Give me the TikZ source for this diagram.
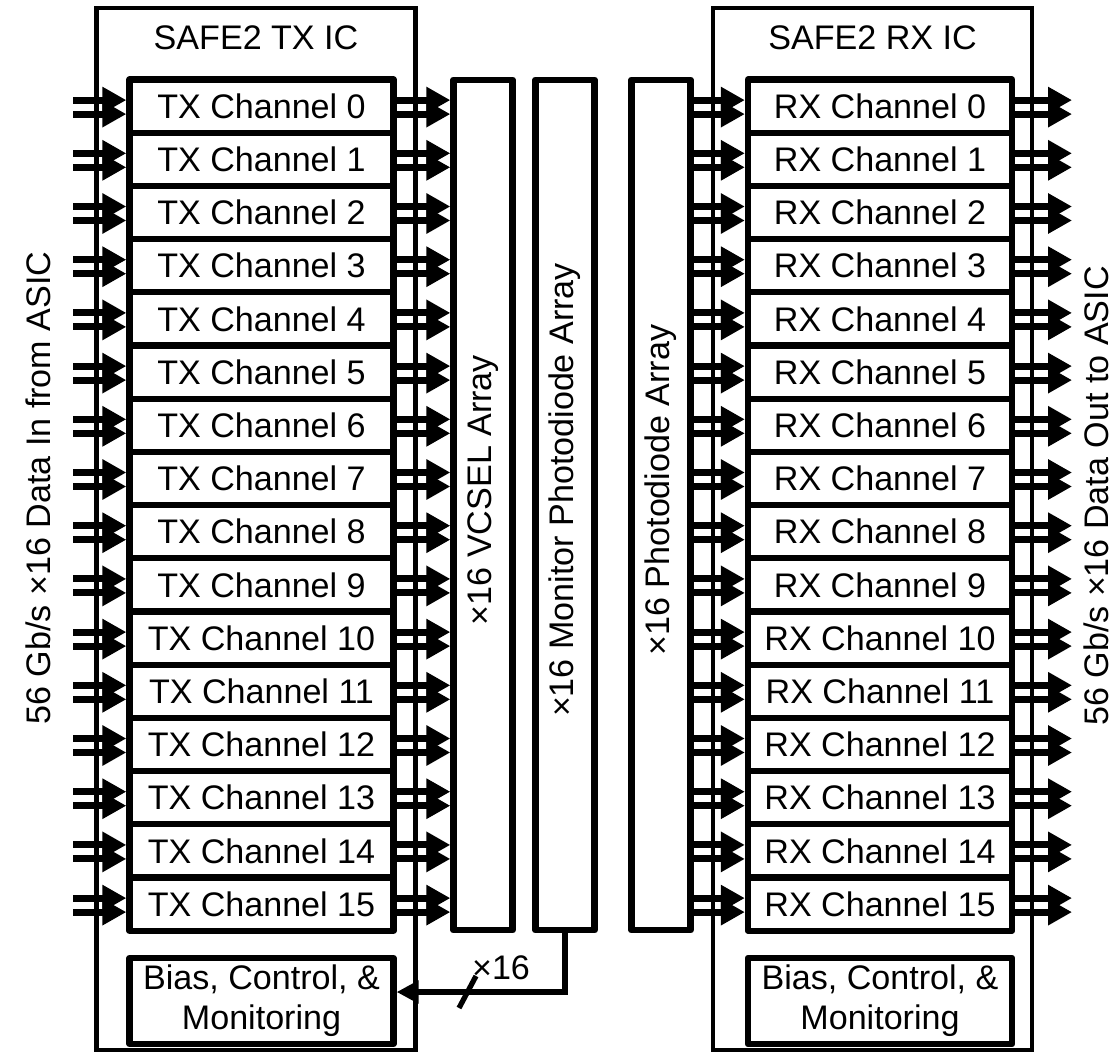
\documentclass[tikz,border=0pt]{standalone}
\usepackage{fontspec}
\setmainfont{Liberation Sans}
\usetikzlibrary{arrows.meta,positioning}
\newcommand{\lblfont}{\fontsize{9.7pt}{11.4pt}\selectfont}

\begin{document}
\begin{tikzpicture}[x=0.1mm,y=-0.1mm,
    font=\lblfont,
    icbox/.style={draw, line width=1.3pt, minimum width=31.9mm, minimum height=104.2mm, inner sep=0pt},
    chanbox/.style={draw, line width=1.8pt, line join=round, minimum width=26.4mm, minimum height=5.32mm, inner sep=0pt},
    arraybox/.style={draw, line width=1.8pt, line join=round, minimum width=5.9mm, minimum height=85.05mm, inner sep=0pt},
    biasbox/.style={chanbox, minimum height=8.6mm, align=center},
    datalink/.style={line width=2pt, -{Triangle[length=2.4mm,width=2.5mm]}},
    buslink/.style={line width=1.5pt, -{Triangle[length=2.2mm,width=2.2mm]}},
  ]
  \useasboundingbox (0,0) rectangle (1117,1053);

  % IC outlines
  \node[icbox] (txic) at (256,529) {};
  \node[icbox] (rxic) at (872.5,529) {};
  \node (txtitle) at (256,38) {SAFE2 TX IC};
  \node (rxtitle) at (872.5,38) {SAFE2 RX IC};

  % optical arrays
  \node[arraybox] (vcsel) at (483,505) {};
  \node[arraybox] (mpd) at (565,505) {};
  \node[arraybox] (pd) at (661,505) {};
  \node[rotate=90] (vcsellbl) at (483,490) {×16 VCSEL Array};
  \node[rotate=90] (mpdlbl) at (565,490) {×16 Monitor Photodiode Array};
  \node[rotate=90] (pdlbl) at (661,490) {×16 Photodiode Array};

  % channels
  \foreach \i in {0,...,15} {
    \node[chanbox] (tx\i) at (261.5,{106.1+53.2*\i}) {TX Channel \i};
    \node[chanbox] (rx\i) at (880,{106.1+53.2*\i}) {RX Channel \i};
  }

  % data links
  \coordinate (asicin) at (73,0);
  \coordinate (asicout) at (1072,0);
  \foreach \i in {0,...,15} {
    \foreach \s in {0.6mm,-0.8mm} {
      \draw[datalink] ([yshift=\s]asicin |- tx\i.west) -- ([yshift=\s]tx\i.west);
      \draw[datalink] ([yshift=\s]tx\i.east) -- ([yshift=\s]vcsel.west |- tx\i.east);
      \draw[datalink] ([yshift=\s]pd.east |- rx\i.west) -- ([yshift=\s]rx\i.west);
      \draw[datalink] ([yshift=\s]rx\i.east) -- ([yshift=\s]asicout |- rx\i.east);
    }
  }
  \node[rotate=90] (inlbl) at (38,488) {56 Gb/s ×16 Data In from ASIC};
  \node[rotate=90] (outlbl) at (1096,496) {56 Gb/s ×16 Data Out to ASIC};

  % bias and control
  \node[biasbox] (txbias) at (261.5,1001) {Bias, Control, \&\\Monitoring};
  \node[biasbox] (rxbias) at (880,1001) {Bias, Control, \&\\Monitoring};
  \draw[buslink] (mpd.south) |- ([yshift=0.9mm]txbias.east);
  \draw[line width=1.5pt] (459,1008) -- (476,976);
  \node (buslbl) at (501,968) {×16};
\end{tikzpicture}
\end{document}
